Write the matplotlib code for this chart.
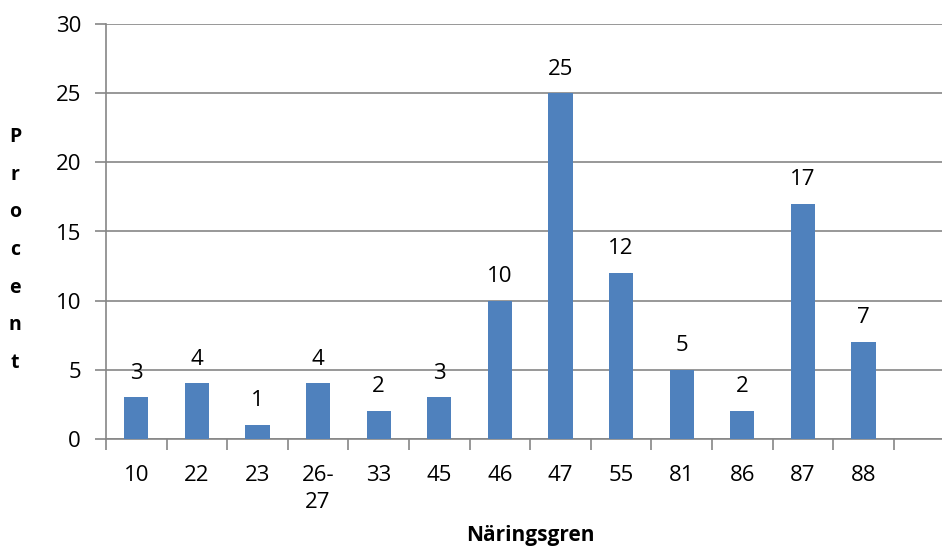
import matplotlib.pyplot as plt

categories = ["10", "22", "23", "26-\n27", "33", "45", "46", "47", "55", "81", "86", "87", "88"]
values = [3, 4, 1, 4, 2, 3, 10, 25, 12, 5, 2, 17, 7]
n_slots = 14  # Excel-axis has an empty slot after the last category

plt.rcParams["font.family"] = ["Open Sans", "DejaVu Sans"]

fig = plt.figure(figsize=(9.42, 5.47), dpi=100)
W, H = 942, 547
x0, y0, y1 = 106, 438.7, 24.3
slot = 60.6
ax = fig.add_axes([x0 / W, (H - y0) / H, n_slots * slot / W, (y0 - y1) / H])

grid_col = "#868686"
xs = list(range(len(values)))
ax.bar(xs, values, width=0.4, color="#4f81bd", zorder=3)

for x, v in zip(xs, values):
    ax.annotate(str(v), (x, v), xytext=(0, 13.5), textcoords="offset points",
                ha="center", va="baseline", fontsize=16)

ax.set_xlim(-0.5, n_slots - 0.5)
ax.set_ylim(0, 30)
ax.set_yticks(range(0, 31, 5))
ax.yaxis.grid(True, color=grid_col, linewidth=1.2, zorder=0)

# ticks at category boundaries, labels at centres
ax.set_xticks([i - 0.5 for i in range(n_slots + 1)])
ax.set_xticklabels([])
ax.set_xticks(xs, minor=True)
ax.set_xticklabels(categories, minor=True, fontsize=16, va="top", linespacing=1.35)
ax.tick_params(axis="x", which="major", length=8, color=grid_col, width=1.2)
ax.tick_params(axis="x", which="minor", length=0, pad=19)
ax.tick_params(axis="y", length=8, color=grid_col, width=1.2, labelsize=16, pad=10)

for side in ["top", "right"]:
    ax.spines[side].set_visible(False)
for side in ["left", "bottom"]:
    ax.spines[side].set_color(grid_col)
    ax.spines[side].set_linewidth(1.2)

fig.text(15 / W, 1 - 250 / H, "P\nr\no\nc\ne\nn\nt", ha="center", va="center",
         fontsize=14, fontweight="bold", linespacing=2.17)
fig.text(530 / W, 1 - 536 / H, "Näringsgren", ha="center", va="center",
         fontsize=15, fontweight="bold")

fig.savefig("out.png", dpi=100)
